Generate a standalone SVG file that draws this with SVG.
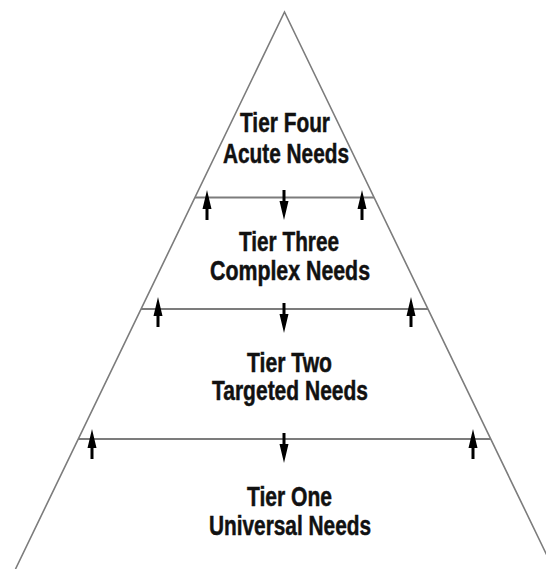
<svg xmlns="http://www.w3.org/2000/svg" xmlns:xlink="http://www.w3.org/1999/xlink" width="546" height="569" viewBox="0 0 546 569">
  <style>
    .edge { fill: none; stroke: #7c7c7c; stroke-width: 1.6; }
    .tier { fill: none; stroke: #7c7c7c; stroke-width: 1.8; }
    .arrow { fill: #000; }
    .lbl { font-family: "Liberation Sans", Arial, sans-serif; font-weight: bold; font-size: 27px; fill: #111; stroke: #111; stroke-width: 0.5; text-anchor: middle; }
  </style>
  <defs>
    <path id="up" d="M0,0 L4.5,19 L1.5,19 L1.5,30 L-1.5,30 L-1.5,19 L-4.5,19 Z"/>
  </defs>
  <rect width="546" height="569" fill="#fff"/>
  <g id="pyramid">
    <path class="edge" d="M15.5,569 L284.5,12 L553.5,569"/>
  </g>
  <g id="connectors">
    <line class="tier" x1="195" y1="197.5" x2="374" y2="197.5"/>
    <line class="tier" x1="141" y1="309" x2="428" y2="309"/>
    <line class="tier" x1="78" y1="439" x2="491" y2="439"/>
    <g class="arrow">
      <use xlink:href="#up" href="#up" transform="translate(207,190)"/>
      <use xlink:href="#up" href="#up" transform="translate(362,190)"/>
      <use xlink:href="#up" href="#up" transform="translate(284,220) rotate(180)"/>
      <use xlink:href="#up" href="#up" transform="translate(158,297)"/>
      <use xlink:href="#up" href="#up" transform="translate(411,297)"/>
      <use xlink:href="#up" href="#up" transform="translate(284,333) rotate(180)"/>
      <use xlink:href="#up" href="#up" transform="translate(92,429)"/>
      <use xlink:href="#up" href="#up" transform="translate(473,429)"/>
      <use xlink:href="#up" href="#up" transform="translate(284,463) rotate(180)"/>
    </g>
  </g>
  <g id="tier-four">
    <text class="lbl" x="285" y="132" textLength="90" lengthAdjust="spacingAndGlyphs">Tier Four</text>
    <text class="lbl" x="286" y="163" textLength="126" lengthAdjust="spacingAndGlyphs">Acute Needs</text>
  </g>
  <g id="tier-three">
    <text class="lbl" x="289" y="251" textLength="100" lengthAdjust="spacingAndGlyphs">Tier Three</text>
    <text class="lbl" x="290" y="280" textLength="160" lengthAdjust="spacingAndGlyphs">Complex Needs</text>
  </g>
  <g id="tier-two">
    <text class="lbl" x="289.5" y="372" textLength="85" lengthAdjust="spacingAndGlyphs">Tier Two</text>
    <text class="lbl" x="290" y="400" textLength="156" lengthAdjust="spacingAndGlyphs">Targeted Needs</text>
  </g>
  <g id="tier-one">
    <text class="lbl" x="289.5" y="506" textLength="85" lengthAdjust="spacingAndGlyphs">Tier One</text>
    <text class="lbl" x="290" y="535" textLength="162" lengthAdjust="spacingAndGlyphs">Universal Needs</text>
  </g>
</svg>
